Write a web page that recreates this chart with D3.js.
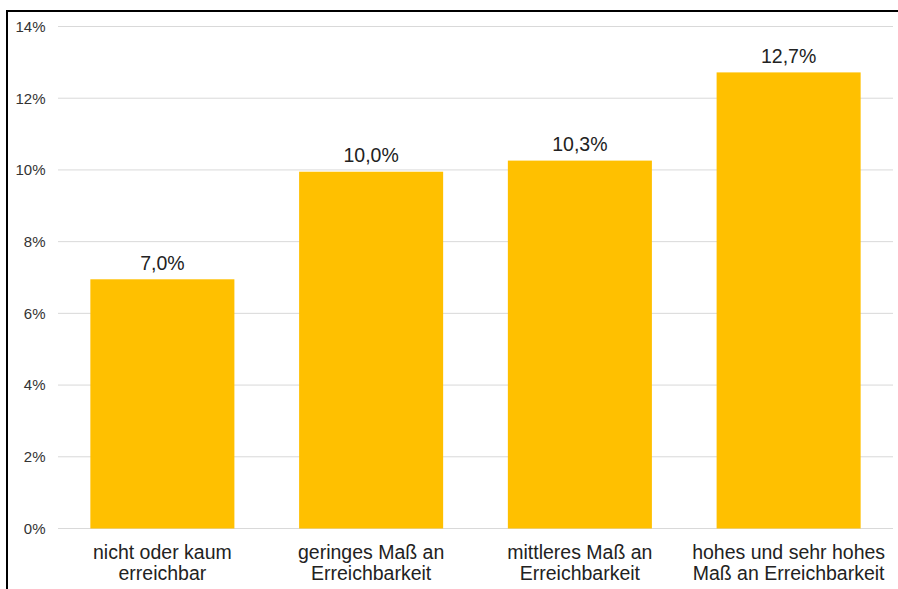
<!DOCTYPE html>
<html><head><meta charset="utf-8">
<script src="https://cdn.jsdelivr.net/npm/d3@7"></script>
<style>body{margin:0;background:#fff;overflow:hidden}svg{display:block}</style>
</head><body><svg id="c" width="898" height="589"></svg>
<script>
const categories = [["nicht oder kaum","erreichbar"],["geringes Maß an","Erreichbarkeit"],["mittleres Maß an","Erreichbarkeit"],["hohes und sehr hohes","Maß an Erreichbarkeit"]];
const values = [6.95, 9.95, 10.26, 12.72];
const valueLabels = ["7,0%","10,0%","10,3%","12,7%"];
const ticks = [0,2,4,6,8,10,12,14];

const svg = d3.select("#c");
const font = "'Liberation Sans', Arial, sans-serif";
const x = d3.scaleBand().domain(d3.range(categories.length)).range([58, 893]).paddingInner(0.31).paddingOuter(0.155);
const y = d3.scaleLinear().domain([0,14]).range([528.5, 26.5]);

svg.append("path").attr("d","M7,600V11H900").attr("fill","none").attr("stroke","#000").attr("stroke-width",2);

svg.append("g").selectAll("line").data(ticks).join("line")
  .attr("x1",58).attr("x2",893).attr("y1",d=>y(d)).attr("y2",d=>y(d))
  .attr("stroke","#d9d9d9").attr("stroke-width",1);

svg.append("g").selectAll("text").data(ticks).join("text")
  .attr("x",45.5).attr("y",d=>y(d)+5.3).attr("text-anchor","end")
  .attr("font-family",font).attr("font-size",15).attr("fill","#333")
  .text(d=>d+"%");

svg.append("g").selectAll("rect").data(values).join("rect")
  .attr("x",(d,i)=>x(i)).attr("width",x.bandwidth())
  .attr("y",d=>y(d)).attr("height",d=>y(0)-y(d)).attr("fill","#FFC000");

svg.append("g").selectAll("text").data(values).join("text")
  .attr("x",(d,i)=>x(i)+x.bandwidth()/2).attr("y",d=>y(d)-9.5)
  .attr("text-anchor","middle").attr("font-family",font).attr("font-size",19.5).attr("fill","#222")
  .text((d,i)=>valueLabels[i]);

const cl = svg.append("g").selectAll("text").data(categories).join("text")
  .attr("text-anchor","middle").attr("font-family",font).attr("font-size",19.5).attr("fill","#222");
cl.each(function(lines,i){
  d3.select(this).selectAll("tspan").data(lines).join("tspan")
    .attr("x",x(i)+x.bandwidth()/2).attr("y",(l,j)=>559+j*21).text(l=>l);
});
</script></body></html>
